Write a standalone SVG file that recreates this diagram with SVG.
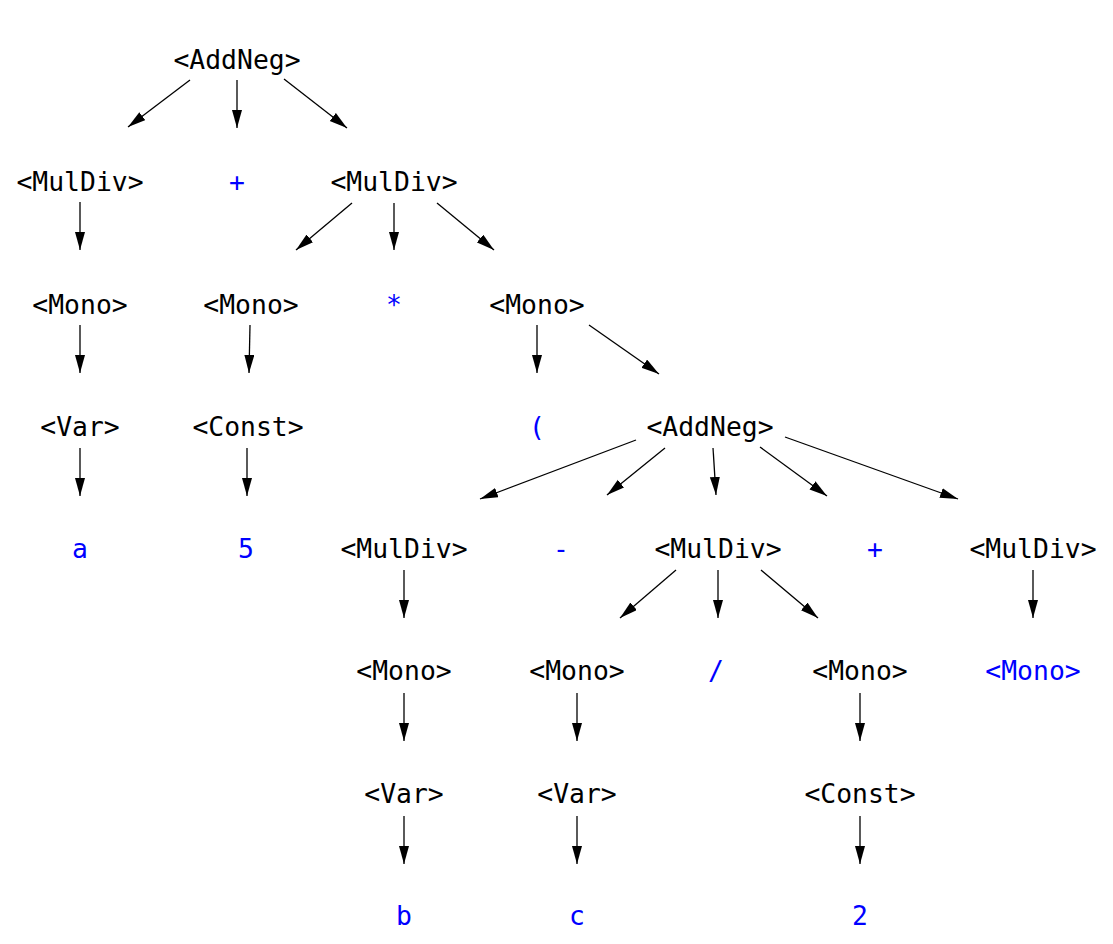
<svg xmlns="http://www.w3.org/2000/svg" width="1113" height="944" viewBox="0 0 1113 944">
  <style>
    text { font-family: "DejaVu Sans Mono", "Liberation Mono", monospace; font-size: 26.4px; text-anchor: middle; fill: #000000; }
    text.term { fill: #0000ff; }
    #edges line { stroke: #000000; stroke-width: 1.3; marker-end: url(#arrow); }
  </style>
  <defs>
    <marker id="arrow" markerUnits="userSpaceOnUse" markerWidth="19" markerHeight="11" refX="18" refY="5" orient="auto">
      <path d="M0,0 L18,5 L0,10 Z" fill="#000000"/>
    </marker>
  </defs>
  <rect width="1113" height="944" fill="#ffffff"/>

  <!-- parse tree edges -->
  <g id="edges">
    <line x1="190" y1="80" x2="128" y2="127"/>
    <line x1="237" y1="80" x2="237" y2="128"/>
    <line x1="284" y1="79" x2="347" y2="128"/>
    <line x1="80" y1="202" x2="80" y2="250"/>
    <line x1="352" y1="203" x2="296" y2="250"/>
    <line x1="394" y1="203" x2="394" y2="250"/>
    <line x1="437" y1="203" x2="494" y2="250"/>
    <line x1="80" y1="325" x2="80" y2="373"/>
    <line x1="250" y1="325" x2="249" y2="373"/>
    <line x1="537" y1="325" x2="537" y2="373"/>
    <line x1="589" y1="325" x2="659" y2="374"/>
    <line x1="80" y1="448" x2="80" y2="496"/>
    <line x1="247" y1="448" x2="247" y2="496"/>
    <line x1="636" y1="440" x2="480" y2="499"/>
    <line x1="665" y1="448" x2="607" y2="495"/>
    <line x1="713" y1="448" x2="716" y2="495"/>
    <line x1="760" y1="447" x2="827" y2="496"/>
    <line x1="785" y1="437" x2="958" y2="499"/>
    <line x1="404" y1="570" x2="404" y2="618"/>
    <line x1="676" y1="570" x2="620" y2="618"/>
    <line x1="718" y1="570" x2="718" y2="618"/>
    <line x1="761" y1="570" x2="818" y2="618"/>
    <line x1="1033" y1="570" x2="1033" y2="618"/>
    <line x1="404" y1="693" x2="404" y2="741"/>
    <line x1="577" y1="693" x2="577" y2="741"/>
    <line x1="860" y1="693" x2="860" y2="741"/>
    <line x1="404" y1="816" x2="404" y2="864"/>
    <line x1="577" y1="816" x2="577" y2="864"/>
    <line x1="860" y1="816" x2="860" y2="864"/>
  </g>

  <!-- row 1 -->
  <g id="addneg1"><text x="237" y="69">&lt;AddNeg&gt;</text></g>
  <!-- row 2 -->
  <g id="muldiv1"><text x="80" y="191">&lt;MulDiv&gt;</text></g>
  <g id="plus1"><text class="term" x="237" y="191">+</text></g>
  <g id="muldiv2"><text x="394" y="191">&lt;MulDiv&gt;</text></g>
  <!-- row 3 -->
  <g id="mono1"><text x="80" y="314">&lt;Mono&gt;</text></g>
  <g id="mono2"><text x="251" y="314">&lt;Mono&gt;</text></g>
  <g id="times1"><text class="term" x="394" y="314">*</text></g>
  <g id="mono3"><text x="537" y="314">&lt;Mono&gt;</text></g>
  <!-- row 4 -->
  <g id="var1"><text x="80" y="436">&lt;Var&gt;</text></g>
  <g id="const1"><text x="248" y="436">&lt;Const&gt;</text></g>
  <g id="lparen"><text class="term" x="537" y="436">(</text></g>
  <g id="addneg2"><text x="710" y="436">&lt;AddNeg&gt;</text></g>
  <!-- row 5 -->
  <g id="a"><text class="term" x="80" y="558">a</text></g>
  <g id="five"><text class="term" x="246" y="558">5</text></g>
  <g id="muldiv3"><text x="404" y="558">&lt;MulDiv&gt;</text></g>
  <g id="minus"><text class="term" x="561" y="558">-</text></g>
  <g id="muldiv4"><text x="718" y="558">&lt;MulDiv&gt;</text></g>
  <g id="plus2"><text class="term" x="875" y="558">+</text></g>
  <g id="muldiv5"><text x="1033" y="558">&lt;MulDiv&gt;</text></g>
  <!-- row 6 -->
  <g id="mono4"><text x="404" y="680">&lt;Mono&gt;</text></g>
  <g id="mono5"><text x="577" y="680">&lt;Mono&gt;</text></g>
  <g id="divide"><text class="term" x="716" y="680">/</text></g>
  <g id="mono6"><text x="860" y="680">&lt;Mono&gt;</text></g>
  <g id="mono7"><text class="term" x="1033" y="680">&lt;Mono&gt;</text></g>
  <!-- row 7 -->
  <g id="var2"><text x="404" y="803">&lt;Var&gt;</text></g>
  <g id="var3"><text x="577" y="803">&lt;Var&gt;</text></g>
  <g id="const2"><text x="860" y="803">&lt;Const&gt;</text></g>
  <!-- row 8 -->
  <g id="b"><text class="term" x="404" y="925">b</text></g>
  <g id="c"><text class="term" x="577" y="925">c</text></g>
  <g id="two"><text class="term" x="860" y="925">2</text></g>
</svg>
